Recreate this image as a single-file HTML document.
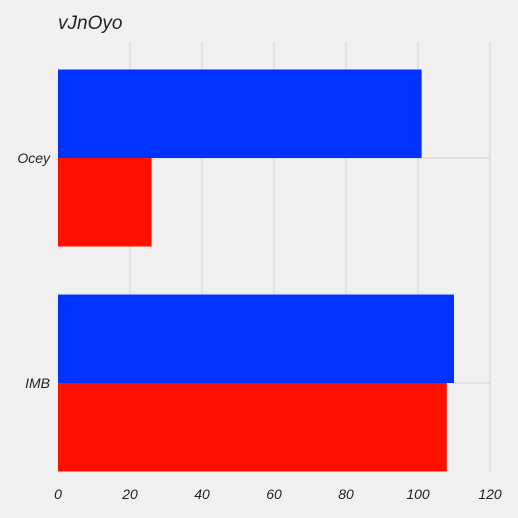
<!DOCTYPE html>
<html><head><meta charset="utf-8"><style>
body{margin:0;background:#f0f0f0;}
svg{display:block;font-family:"Liberation Sans",sans-serif;font-style:italic;}
</style></head><body>
<svg id="c" width="518" height="518">
<rect width="518" height="518" fill="#f0f0f0"/>
<text x="58" y="29" font-size="19" fill="#222">vJnOyo</text>
<g id="grid"></g><g id="bars"></g><g id="labels"></g>
</svg>
<script>
const categories = ["Ocey", "IMB"];
const blueValues = [101, 110];
const redValues = [26, 108];
const xTicks = [0, 20, 40, 60, 80, 100, 120];
const NS = "http://www.w3.org/2000/svg";
const x = v => 58 + v * 3.6;
const yc = i => 158 + i * 225;
const bh = 88.5;
function mk(tag, attrs, parent) {
  const e = document.createElementNS(NS, tag);
  for (const k in attrs) e.setAttribute(k, attrs[k]);
  document.getElementById(parent).appendChild(e);
  return e;
}
xTicks.forEach(t => {
  if (t > 0) {
    const g = mk("line", {x1: x(t), x2: x(t), y1: 42, y2: 471, stroke: "#cbcbcb", "stroke-width": 0.8}, "grid");
    
    
  }
  const l = mk("text", {x: x(t), y: 499, "font-size": 14, fill: "#222", "text-anchor": "middle"}, "labels");
  l.textContent = t;
  
  
});
categories.forEach((c, i) => {
  const g = mk("line", {x1: 58, x2: 490, y1: yc(i), y2: yc(i), stroke: "#cbcbcb", "stroke-width": 0.8}, "grid");
  
  
  const b = mk("rect", {x: x(0), y: yc(i) - bh, width: x(blueValues[i]) - x(0), height: bh, fill: "#0033ff"}, "bars");
  
  
  const r = mk("rect", {x: x(0), y: yc(i), width: x(redValues[i]) - x(0), height: bh, fill: "#ff1100"}, "bars");
  
  
  const l = mk("text", {x: 50, y: yc(i) + 5, "font-size": 14, fill: "#222", "text-anchor": "end"}, "labels");
  l.textContent = c;
  
  
});
</script>
</body></html>
